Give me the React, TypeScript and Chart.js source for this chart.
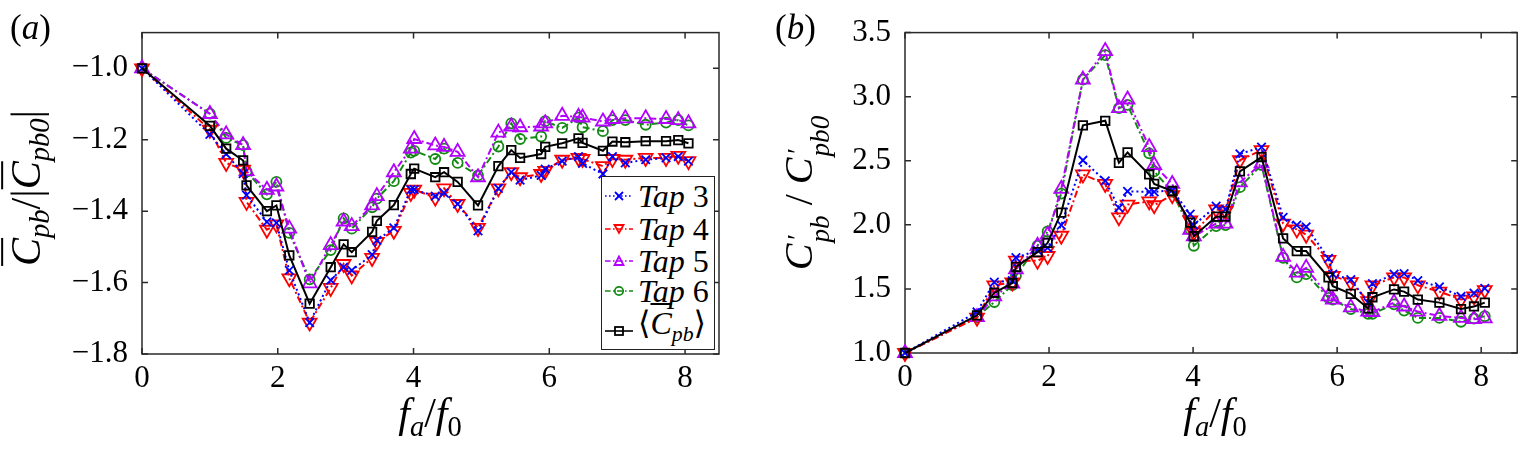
import { useEffect, useRef } from "react";
import Chart from "chart.js/auto";

// forcing frequency ratio f_a/f_0, shared by both panels
const freqRatio = [
  0, 1.0, 1.24, 1.49, 1.54, 1.84, 1.98, 2.17, 2.47, 2.78, 2.97, 3.09, 3.39, 3.46, 3.71, 3.96, 4.01, 4.32,
  4.45, 4.65, 4.95, 5.25, 5.44, 5.57, 5.88, 5.94, 6.19, 6.43, 6.49, 6.79, 6.93, 7.12, 7.42, 7.72, 7.9, 8.05,
];

// (a) mean base pressure, normalised
const tap3Mean = [
  -1.0, -1.185, -1.24, -1.295, -1.355, -1.43, -1.433, -1.566, -1.712, -1.593, -1.557, -1.566, -1.522, -1.482,
  -1.447, -1.34, -1.34, -1.358, -1.349, -1.38, -1.455, -1.336, -1.291, -1.313, -1.3, -1.282, -1.26, -1.247,
  -1.266, -1.296, -1.247, -1.265, -1.256, -1.251, -1.247, -1.26,
];
const tap4Mean = [
  -1.0, -1.172, -1.265, -1.284, -1.374, -1.452, -1.437, -1.588, -1.712, -1.615, -1.548, -1.58, -1.531, -1.486,
  -1.455, -1.349, -1.34, -1.362, -1.336, -1.38, -1.447, -1.336, -1.291, -1.305, -1.296, -1.287, -1.256, -1.251,
  -1.254, -1.274, -1.254, -1.256, -1.251, -1.251, -1.245, -1.26,
];
const tap5Mean = [
  -1.0, -1.128, -1.185, -1.215, -1.288, -1.34, -1.331, -1.449, -1.602, -1.495, -1.429, -1.442, -1.384, -1.358,
  -1.291, -1.225, -1.198, -1.216, -1.22, -1.234, -1.305, -1.18, -1.163, -1.165, -1.163, -1.154, -1.133, -1.136,
  -1.138, -1.149, -1.142, -1.14, -1.14, -1.142, -1.145, -1.154,
];
const tap6Mean = [
  -1.0, -1.127, -1.195, -1.215, -1.289, -1.353, -1.318, -1.461, -1.591, -1.509, -1.42, -1.449, -1.389, -1.365,
  -1.316, -1.236, -1.231, -1.254, -1.225, -1.265, -1.3, -1.219, -1.154, -1.198, -1.191, -1.148, -1.167, -1.138,
  -1.165, -1.176, -1.145, -1.145, -1.158, -1.152, -1.145, -1.16,
];
const avgMean = [
  -1.0, -1.161, -1.225, -1.258, -1.328, -1.4, -1.384, -1.524, -1.659, -1.557, -1.493, -1.515, -1.458, -1.427,
  -1.383, -1.296, -1.281, -1.305, -1.291, -1.318, -1.384, -1.274, -1.229, -1.251, -1.24, -1.22, -1.21, -1.196,
  -1.209, -1.231, -1.205, -1.207, -1.204, -1.204, -1.201, -1.21,
];

// (b) fluctuating base pressure, normalised
const tap3Rms = [
  1.0, 1.32, 1.553, 1.565, 1.745, 1.8, 1.82, 1.998, 2.504, 2.343, 2.133, 2.262, 2.257, 2.257, 2.27, 2.084,
  1.998, 2.146, 2.12, 2.553, 2.607, 2.059, 1.998, 1.985, 1.738, 1.615, 1.573, 1.393, 1.541, 1.615, 1.62, 1.565,
  1.516, 1.442, 1.467, 1.504,
];
const tap4Rms = [
  1.0, 1.275, 1.528, 1.55, 1.72, 1.72, 1.757, 1.915, 2.393, 2.319, 2.059, 2.158, 2.183, 2.153, 2.232, 2.035,
  1.941, 2.12, 2.109, 2.504, 2.583, 2.01, 1.965, 1.923, 1.726, 1.602, 1.553, 1.405, 1.528, 1.59, 1.59, 1.528,
  1.479, 1.417, 1.442, 1.491,
];
const tap5Rms = [
  1.0, 1.28, 1.442, 1.541, 1.652, 1.837, 1.923, 2.281, 3.133, 3.356, 2.911, 2.978, 2.607, 2.467, 2.319, 1.96,
  1.911, 2.01, 2.01, 2.331, 2.479, 1.75, 1.627, 1.664, 1.442, 1.417, 1.356, 1.323, 1.32, 1.393, 1.363, 1.323,
  1.289, 1.274, 1.264, 1.27,
];
const tap6Rms = [
  1.0, 1.28, 1.398, 1.53, 1.602, 1.837, 1.948, 2.244, 3.133, 3.324, 2.911, 2.936, 2.558, 2.417, 2.257, 1.965,
  1.837, 1.99, 1.998, 2.294, 2.467, 1.743, 1.59, 1.615, 1.43, 1.417, 1.343, 1.306, 1.306, 1.38, 1.331, 1.274,
  1.274, 1.244, 1.269, 1.287,
];
const avgRms = [
  1.0, 1.294, 1.47, 1.546, 1.672, 1.787, 1.859, 2.096, 2.776, 2.812, 2.484, 2.565, 2.393, 2.319, 2.264, 2.017,
  1.911, 2.064, 2.064, 2.417, 2.528, 1.894, 1.795, 1.795, 1.59, 1.521, 1.461, 1.348, 1.435, 1.496, 1.479, 1.417,
  1.393, 1.343, 1.363, 1.393,
];

const xTicks = [0, 2, 4, 6, 8];
const yTicksA = [-1.8, -1.6, -1.4, -1.2, -1.0];
const yTicksB = [1.0, 1.5, 2.0, 2.5, 3.0, 3.5];

const SERIF = "'Liberation Serif', 'DejaVu Serif', serif";

const styles = {
  tap3: { color: "#0000ff", dash: [2, 3], point: "crossRot", radius: 6, rot: 0 },
  tap4: { color: "#ff0000", dash: [7, 3, 2, 3], point: "triangle", radius: 8, rot: 180 },
  tap5: { color: "#b300ff", dash: [7, 3, 2, 3], point: "triangle", radius: 8, rot: 0 },
  tap6: { color: "#138a13", dash: [7, 3, 2, 3], point: "circle", radius: 5, rot: 0 },
  avg: { color: "#000000", dash: [], point: "rect", radius: 6, rot: 0 },
};

// box round the plot area with MATLAB-like inward ticks
const framePlugin = {
  id: "frame",
  beforeDatasetsDraw(chart: any) {
    const { ctx, chartArea, scales } = chart;
    const { left, right, top, bottom } = chartArea;
    const len = 6;
    ctx.save();
    ctx.strokeStyle = "#2a2a2a";
    ctx.lineWidth = 1.5;
    ctx.strokeRect(left, top, right - left, bottom - top);
    ctx.beginPath();
    scales.x.ticks.forEach((t: any) => {
      const px = scales.x.getPixelForValue(t.value);
      ctx.moveTo(px, bottom);
      ctx.lineTo(px, bottom - len);
      ctx.moveTo(px, top);
      ctx.lineTo(px, top + len);
    });
    scales.y.ticks.forEach((t: any) => {
      const py = scales.y.getPixelForValue(t.value);
      ctx.moveTo(left, py);
      ctx.lineTo(left + len, py);
      ctx.moveTo(right, py);
      ctx.lineTo(right - len, py);
    });
    ctx.stroke();
    ctx.restore();
  },
};

function makeDataset(values: number[], s: any) {
  return {
    data: freqRatio.map((x, i) => ({ x, y: values[i] })),
    borderColor: s.color,
    borderDash: s.dash,
    borderWidth: 2,
    pointStyle: s.point,
    pointRadius: s.radius,
    pointRotation: s.rot,
    pointBorderColor: s.color,
    pointBackgroundColor: "rgba(0,0,0,0)",
    pointBorderWidth: 1.8,
    tension: 0,
    fill: false,
    clip: false,
  };
}

function makeConfig(series: number[][], yTicks: number[], yMin: number, yMax: number, yWidth: number, xHeight: number, pad: any) {
  const font = { family: SERIF, size: 31 };
  return {
    type: "line" as const,
    data: {
      datasets: [
        makeDataset(series[4], styles.avg),
        makeDataset(series[0], styles.tap3),
        makeDataset(series[1], styles.tap4),
        makeDataset(series[2], styles.tap5),
        makeDataset(series[3], styles.tap6),
      ],
    },
    options: {
      responsive: false,
      animation: false as const,
      layout: { padding: pad },
      plugins: { legend: { display: false }, tooltip: { enabled: false } },
      scales: {
        x: {
          type: "linear" as const,
          min: 0,
          max: 8.5,
          grid: { display: false, drawTicks: false },
          border: { display: false },
          afterBuildTicks: (axis: any) => {
            axis.ticks = xTicks.map((value) => ({ value }));
          },
          afterFit: (axis: any) => {
            axis.height = xHeight;
          },
          ticks: { font, color: "#000", padding: 6, maxRotation: 0, autoSkip: false, callback: (v: any) => String(v) },
        },
        y: {
          type: "linear" as const,
          min: yMin,
          max: yMax,
          grid: { display: false, drawTicks: false },
          border: { display: false },
          afterBuildTicks: (axis: any) => {
            axis.ticks = yTicks.map((value) => ({ value }));
          },
          afterFit: (axis: any) => {
            axis.width = yWidth;
          },
          ticks: {
            font,
            color: "#000",
            padding: 14,
            callback: (v: any) => Number(v).toFixed(1).replace("-", "\u2212"),
          },
        },
      },
    },
    plugins: [framePlugin],
  };
}

const Sub = ({ children }: any) => (
  <span style={{ fontSize: "0.68em", verticalAlign: "-0.32em", fontStyle: "italic" }}>{children}</span>
);
const BarC = () => <i style={{ textDecoration: "overline", textDecorationThickness: "0.05em" }}>C</i>;

// prime stacked above the subscript, as in C'_pb
const PrimeSub = ({ sub }: any) => (
  <span
    style={{
      display: "inline-flex",
      flexDirection: "column",
      fontSize: "0.68em",
      lineHeight: 0.85,
      fontStyle: "italic",
      verticalAlign: "0.22em",
      marginLeft: "0.04em",
    }}
  >
    <span style={{ fontStyle: "normal", paddingLeft: "0.1em" }}>{"\u2032"}</span>
    <span>{sub}</span>
  </span>
);

function LegendMark({ s }: any) {
  const c = s.color;
  const dash = s.dash.length ? s.dash.map((d: number) => d * 0.8).join(" ") : undefined;
  let mark = null;
  if (s.point === "crossRot") mark = <path d="M11 6 L19 14 M19 6 L11 14" stroke={c} strokeWidth={1.8} />;
  else if (s.point === "triangle" && s.rot === 180)
    mark = <path d="M10.5 6 L19.5 6 L15 14 Z" fill="none" stroke={c} strokeWidth={1.8} />;
  else if (s.point === "triangle") mark = <path d="M10.5 14 L19.5 14 L15 5.5 Z" fill="none" stroke={c} strokeWidth={1.8} />;
  else if (s.point === "circle") mark = <circle cx={15} cy={10} r={4.2} fill="none" stroke={c} strokeWidth={1.8} />;
  else mark = <rect x={11} y={6} width={8} height={8} fill="none" stroke={c} strokeWidth={1.8} />;
  return (
    <svg width={30} height={20} style={{ position: "absolute", left: 2, top: -10 }}>
      <line x1={1} y1={10} x2={29} y2={10} stroke={c} strokeWidth={1.6} strokeDasharray={dash} />
      {mark}
    </svg>
  );
}

const legendRows = [
  { s: styles.tap3, label: "3", y: 19 },
  { s: styles.tap4, label: "4", y: 52 },
  { s: styles.tap5, label: "5", y: 84 },
  { s: styles.tap6, label: "6", y: 114 },
];

function Panel({ series, yTicks, yMin, yMax, yWidth, xHeight, pad, width, left }: any) {
  const canvasRef = useRef<HTMLCanvasElement>(null);

  useEffect(() => {
    if (!canvasRef.current) return;
    const chart = new Chart(canvasRef.current, makeConfig(series, yTicks, yMin, yMax, yWidth, xHeight, pad) as any);
    return () => chart.destroy();
  }, []);

  return (
    <canvas
      ref={canvasRef}
      width={width}
      height={456}
      style={{ position: "absolute", left, top: 0, width, height: 456 }}
    ></canvas>
  );
}

const abs = (extra: any) => ({
  position: "absolute" as const,
  fontFamily: SERIF,
  lineHeight: 1,
  whiteSpace: "nowrap" as const,
  color: "#000",
  ...extra,
});

const XTitle = ({ cx }: any) => (
  <div style={abs({ left: cx, top: 417, fontSize: 42, transform: "translate(-50%, -50%)" })}>
    <i>f</i>
    <Sub>a</Sub>/<i>f</i>
    <span style={{ fontSize: "0.68em", verticalAlign: "-0.32em" }}>0</span>
  </div>
);

export default function App() {
  return (
    <div style={{ position: "absolute", left: 0, top: 0, width: 1527, height: 456, background: "#fff", overflow: "hidden" }}>
      <Panel
        series={[tap3Mean, tap4Mean, tap5Mean, tap6Mean, avgMean]}
        yTicks={yTicksA}
        yMin={-1.8}
        yMax={-0.9}
        yWidth={142}
        xHeight={102}
        pad={{ left: 0, top: 16, right: 41, bottom: 0 }}
        width={760}
        left={0}
      />
      <Panel
        series={[tap3Rms, tap4Rms, tap5Rms, tap6Rms, avgRms]}
        yTicks={yTicksB}
        yMin={1.0}
        yMax={3.5}
        yWidth={145}
        xHeight={103}
        pad={{ left: 0, top: 15, right: 2, bottom: 0 }}
        width={767}
        left={760}
      />

      {/* panel labels */}
      <div style={abs({ left: 10, top: 10, fontSize: 35 })}>
        (<i>a</i>)
      </div>
      <div style={abs({ left: 775, top: 10, fontSize: 35 })}>
        (<i>b</i>)
      </div>

      <XTitle cx={430} />
      <XTitle cx={1215} />

      {/* y titles */}
      <div style={abs({ left: 30, top: 188, fontSize: 42, transform: "translate(-50%, -50%) rotate(-90deg)" })}>
        <BarC />
        <Sub>pb</Sub>/|<BarC />
        <Sub>pb0</Sub>|
      </div>
      <div style={abs({ left: 806, top: 193, fontSize: 40, transform: "translate(-50%, -50%) rotate(-90deg)" })}>
        <i>C</i>
        <PrimeSub sub="pb" />
        {" / "}
        <i>C</i>
        <PrimeSub sub="pb0" />
      </div>

      {/* legend */}
      <div
        style={{
          position: "absolute",
          left: 601,
          top: 176,
          width: 114,
          height: 174,
          boxSizing: "border-box",
          border: "1.3px solid #222",
          background: "#fff",
        }}
      >
        {legendRows.map((r) => (
          <div key={r.label} style={{ position: "absolute", left: 0, top: r.y, width: "100%" }}>
            <LegendMark s={r.s} />
            <div style={abs({ left: 36, top: -16, fontSize: 32 })}>
              <i>Tap</i> {r.label}
            </div>
          </div>
        ))}
        <div style={{ position: "absolute", left: 0, top: 154, width: "100%" }}>
          <LegendMark s={styles.avg} />
          <div style={abs({ left: 36, top: -24, fontSize: 32 })}>
            {"\u27E8"}
            <BarC />
            <Sub>pb</Sub>
            {"\u27E9"}
          </div>
        </div>
      </div>
    </div>
  );
}
